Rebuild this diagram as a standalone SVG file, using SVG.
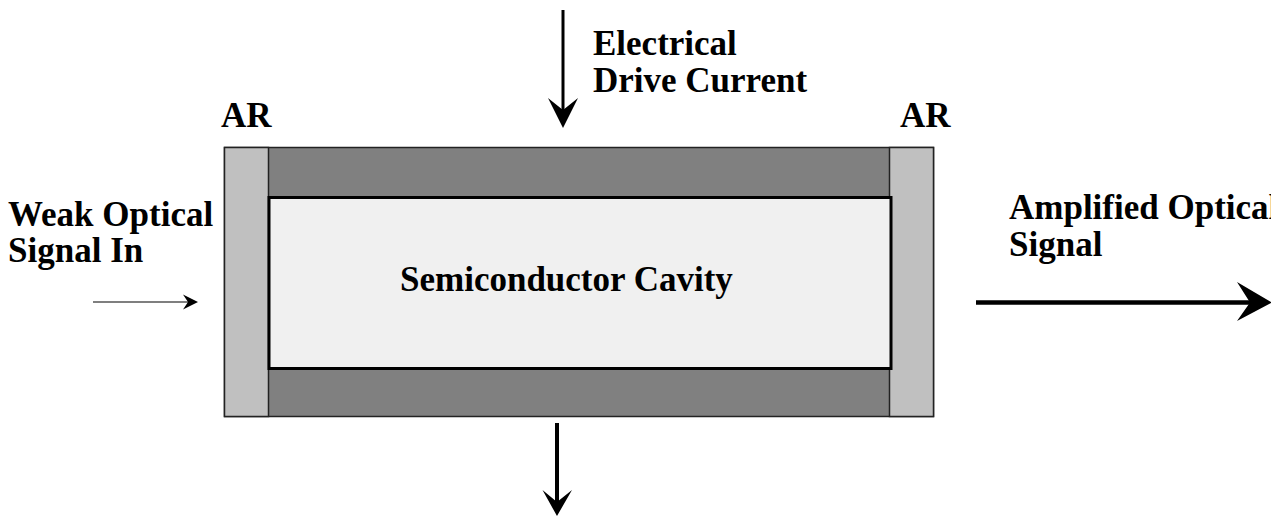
<svg xmlns="http://www.w3.org/2000/svg" width="1271" height="516" viewBox="0 0 1271 516">
<style>
.t{font-family:"Liberation Serif","Times New Roman",serif;font-weight:bold;font-size:35px;fill:#000}
.ar{fill:#c0c0c0;stroke:#222;stroke-width:1.5}
.ln{stroke:#000;fill:none}
.hd{fill:#000;stroke:none}
</style>
<rect width="1271" height="516" fill="#fff"/>
<g id="amplifier">
<rect x="224.5" y="147.5" width="709" height="269" fill="#808080" stroke="#222" stroke-width="1.5"/>
<rect class="ar" x="224.5" y="147.5" width="44" height="269"/>
<rect class="ar" x="889.5" y="147.5" width="44" height="269"/>
</g>
<g id="cavity">
<rect x="269" y="197.5" width="622" height="171" fill="#f0f0f0" stroke="#000" stroke-width="3"/>
<text class="t" x="400" y="291">Semiconductor Cavity</text>
</g>
<g id="ar-left"><text class="t" x="221" y="127">AR</text></g>
<g id="ar-right"><text class="t" x="900" y="127">AR</text></g>
<g id="drive-label"><text class="t" x="593" y="55">Electrical</text><text class="t" x="593" y="92">Drive Current</text></g>
<g id="input-label"><text class="t" x="8" y="226">Weak Optical</text><text class="t" x="8" y="262">Signal In</text></g>
<g id="output-label"><text class="t" x="1009" y="219">Amplified Optical</text><text class="t" x="1009" y="256">Signal</text></g>
<g id="connectors">
<line class="ln" x1="563" y1="10" x2="563" y2="112" stroke-width="3"/>
<polygon class="hd" points="563,128 548,98 563,110 578,98"/>
<line class="ln" x1="557" y1="423" x2="557" y2="502" stroke-width="4"/>
<polygon class="hd" points="557,516 542.5,490 557,502 572,490"/>
<line class="ln" x1="93" y1="302" x2="192" y2="302" stroke-width="1.2"/>
<polygon class="hd" points="198,302 183,294.5 188,302 183,309.5"/>
<line class="ln" x1="976" y1="302.5" x2="1252" y2="302.5" stroke-width="4.5"/>
<polygon class="hd" points="1272,302.5 1237,282 1250,302.5 1237,321"/>
</g>
</svg>
